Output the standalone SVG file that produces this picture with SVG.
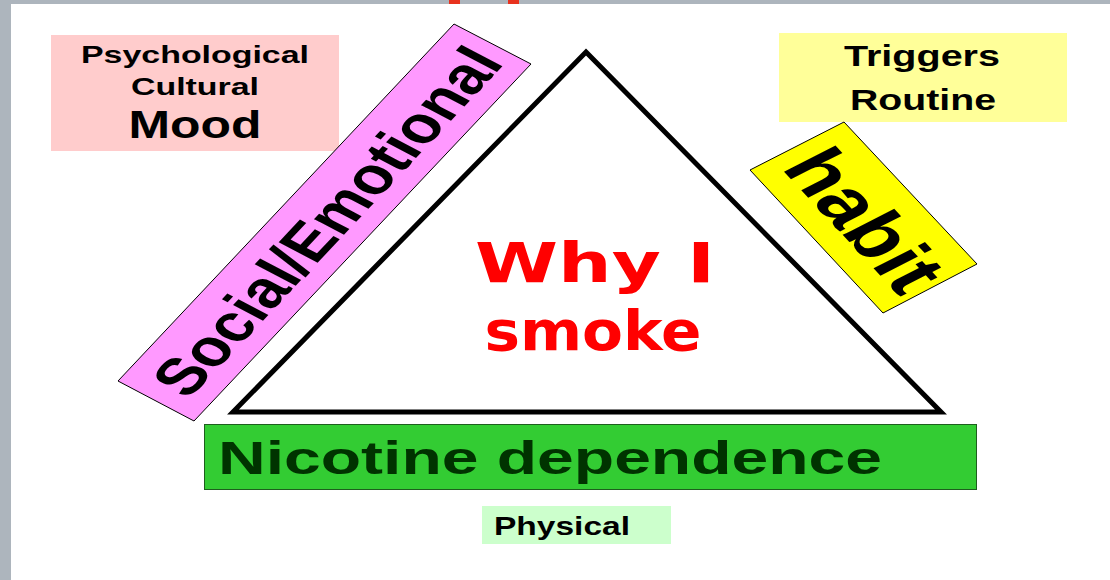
<svg xmlns="http://www.w3.org/2000/svg" width="1110" height="580" viewBox="0 0 1110 580">
<style>
.t{font-family:"Liberation Sans",Arial,sans-serif;font-weight:bold;fill:#000}
.c{text-anchor:middle}
</style>
<rect x="0" y="0" width="1110" height="580" fill="#ffffff"/>
<rect x="0" y="0" width="11" height="580" fill="#adb5bd"/>
<rect x="0" y="0" width="1110" height="4" fill="#adb5bd"/>
<rect x="449" y="0" width="11" height="4" fill="#e8321e"/>
<rect x="508" y="0" width="11" height="4" fill="#e8321e"/>

<g id="psychological">
<rect x="51" y="35" width="288" height="116" fill="#ffcccc"/>
<text class="t c" x="195" y="63" font-size="24" textLength="228" lengthAdjust="spacingAndGlyphs">Psychological</text>
<text class="t c" x="195" y="95" font-size="24" textLength="128" lengthAdjust="spacingAndGlyphs">Cultural</text>
<text class="t c" x="195" y="138" font-size="38" textLength="133" lengthAdjust="spacingAndGlyphs">Mood</text>
</g>

<g id="triggers">
<rect x="779" y="33" width="288" height="89" fill="#ffff99"/>
<text class="t c" x="922" y="66" font-size="29" textLength="156" lengthAdjust="spacingAndGlyphs">Triggers</text>
<text class="t c" x="923" y="110" font-size="29" textLength="146" lengthAdjust="spacingAndGlyphs">Routine</text>
</g>

<g id="social">
<polygon points="118,381 454,24 531,64 194,421" fill="#ff99ff" stroke="#000" stroke-width="1"/>
<g transform="matrix(0.787,-0.836,1.134,0.597,118,381)">
<text class="t" x="14" y="52" font-size="50" textLength="403" lengthAdjust="spacingAndGlyphs">Social/Emotional</text>
</g>
</g>

<g id="habit">
<polygon points="750,170 844,122 977,264 883,313" fill="#ffff00" stroke="#000" stroke-width="1"/>
<g transform="matrix(0.782,0.841,-1.146,0.585,844,122)">
<text class="t" x="11" y="63" font-size="62" textLength="154" lengthAdjust="spacingAndGlyphs">habit</text>
</g>
</g>

<g id="triangle">
<polygon points="586,52 941,412 233,412" fill="#ffffff" stroke="#000" stroke-width="5" stroke-linejoin="miter" stroke-miterlimit="10"/>
<text x="595" y="282" font-family="'Comic Sans MS','DejaVu Sans',sans-serif" font-weight="bold" font-size="56" fill="#ff0000" text-anchor="middle" textLength="240" lengthAdjust="spacingAndGlyphs">Why I</text>
<text x="593" y="350" font-family="'Comic Sans MS','DejaVu Sans',sans-serif" font-weight="bold" font-size="56" fill="#ff0000" text-anchor="middle" textLength="217" lengthAdjust="spacingAndGlyphs">smoke</text>
</g>

<g id="nicotine">
<rect x="204.5" y="424.5" width="772" height="65" fill="#33cc33" stroke="#1e5e1e" stroke-width="1"/>
<text class="t" x="218" y="474" font-size="46" fill="#003300" style="fill:#003300" textLength="664" lengthAdjust="spacingAndGlyphs">Nicotine dependence</text>
</g>

<g id="physical">
<rect x="482" y="506" width="189" height="38" fill="#ccffcc"/>
<text class="t" x="494" y="535" font-size="25" textLength="136" lengthAdjust="spacingAndGlyphs">Physical</text>
</g>

<g id="connectors"></g>
</svg>
